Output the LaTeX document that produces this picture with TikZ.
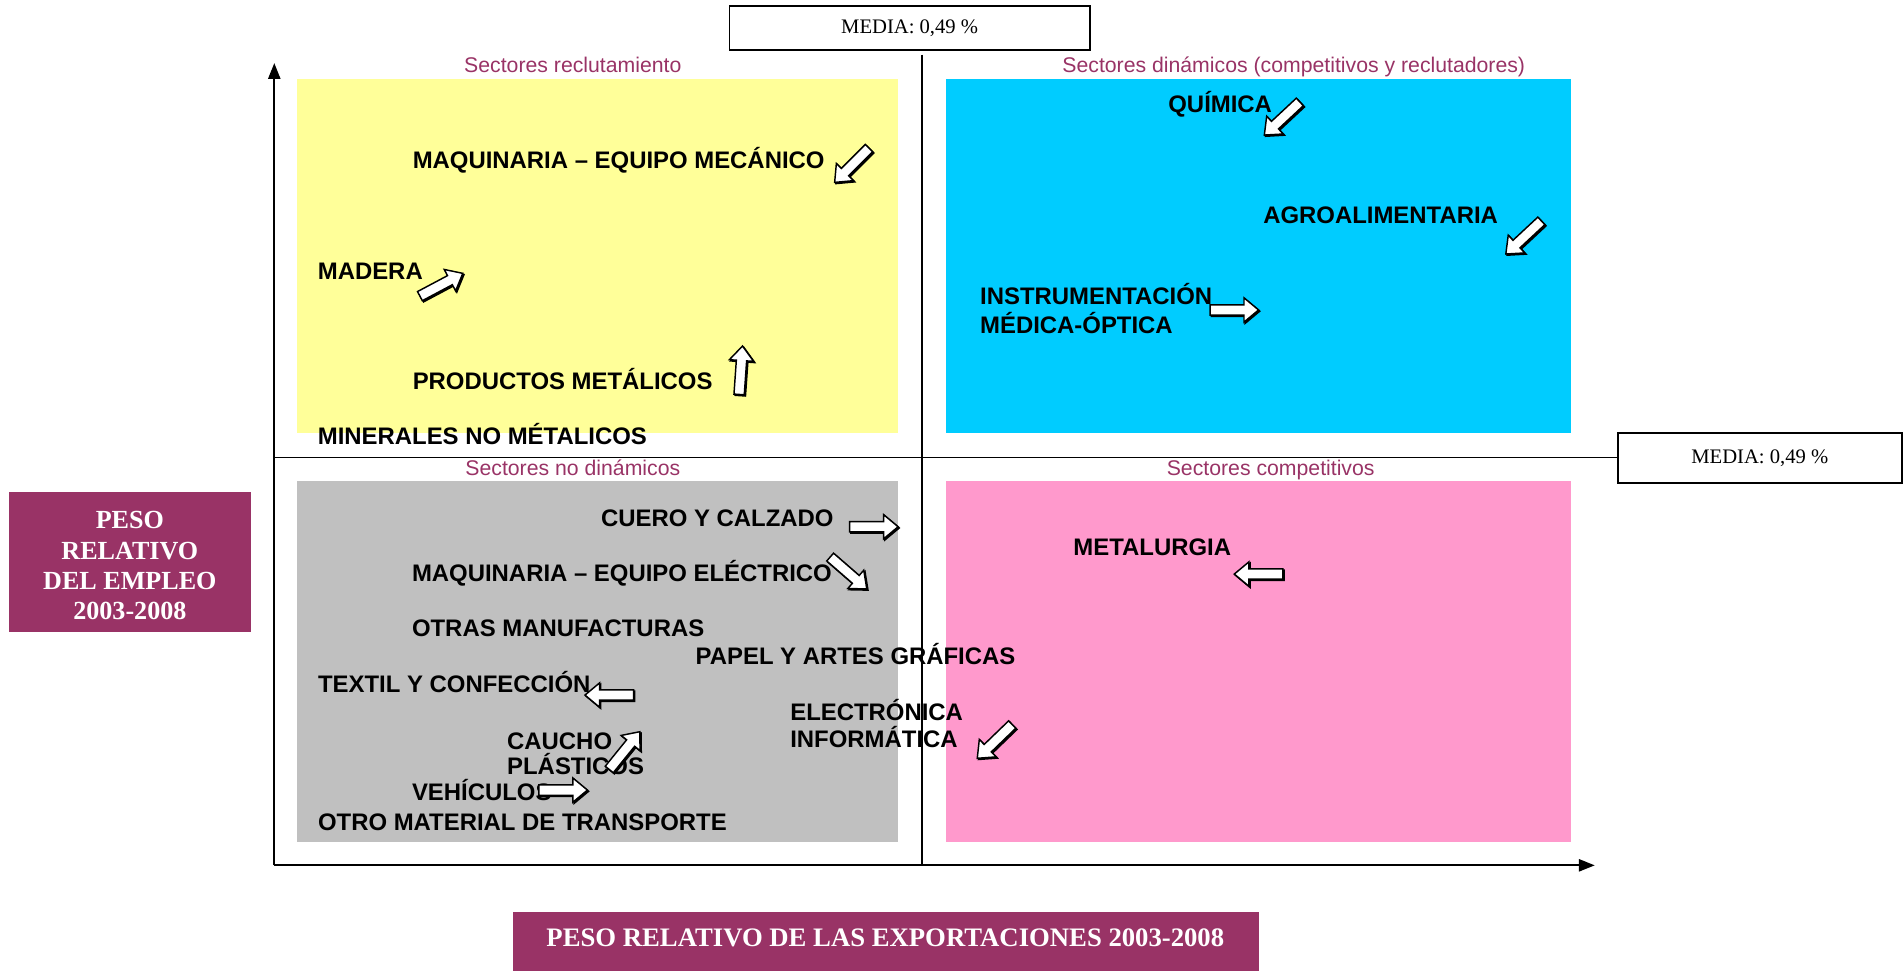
\documentclass[tikz,border=0pt]{standalone}
\usepackage{fontspec}
\setmainfont{Liberation Serif}
\newfontfamily\arialf{Liberation Sans}
\usetikzlibrary{arrows.meta}
\definecolor{qyellow}{HTML}{FFFF99}
\definecolor{qcyan}{HTML}{00CCFF}
\definecolor{qgray}{HTML}{C0C0C0}
\definecolor{qpink}{HTML}{FF99CC}
\definecolor{qpurple}{HTML}{993366}
\tikzset{
  lab/.style={font=\arialf\bfseries\fontsize{19.7}{23}\selectfont, anchor=base west, inner sep=0pt},
  ttl/.style={font=\arialf\fontsize{17.5}{20}\selectfont, text=qpurple, anchor=base, inner sep=0pt},
  axisline/.style={line width=1.5pt},
  mediabox/.style={draw, line width=1.5pt, fill=white, inner sep=0pt, font=\fontsize{17}{20}\selectfont},
  barrow/.pic={\draw[line width=1.2pt, fill=white, line join=miter]
     (0,-4.25) -- (28,-4.25) -- (28,-10) -- (40,0) -- (28,10) -- (28,4.25) -- (0,4.25) -- cycle;},
  barrowsh/.pic={\draw[line width=1.2pt, fill=black, line join=miter]
     (0,-4.25) -- (28,-4.25) -- (28,-10) -- (40,0) -- (28,10) -- (28,4.25) -- (0,4.25) -- cycle;}
}
\newcommand\blockarr[3]{\pic[rotate=#3] at (#1+1,#2+1) {barrowsh}; \pic[rotate=#3] at (#1,#2) {barrow};}
\begin{document}
\begin{tikzpicture}[x=1pt,y=-1pt]
\useasboundingbox (0,0) rectangle (1568,800);
% quadrant backgrounds
\fill[qyellow] (245,65) rectangle (739.5,357);
\fill[qcyan] (779.5,65) rectangle (1294.5,357);
\fill[qgray] (245,396.5) rectangle (739.5,693.5);
\fill[qpink] (779.5,396.5) rectangle (1294.5,693.5);
% axes
\coordinate (o) at (226,713);
\coordinate (yt) at (226,52);
\coordinate (xr) at (1314,713);
\draw[axisline, -{Triangle[length=13pt,width=10pt]}] (o) -- (yt);
\draw[axisline, -{Triangle[length=13pt,width=10pt]}] (o) -- (xr);
% median boxes and lines
\node[mediabox, minimum width=297pt, minimum height=36pt] (mtop) at (749.5,23) {MEDIA: 0,49 \%};
\node[mediabox, minimum width=234pt, minimum height=41pt] (mright) at (1450,377.5) {MEDIA: 0,49 \%};
\coordinate (vtop) at (760,45);
\coordinate (vbot) at (760,713);
\coordinate (hleft) at (226,377);
\draw[axisline] (vtop) -- (vbot);
\draw[axisline] (hleft) -- (hleft -| mright.west);
% quadrant titles
\node[ttl] (t1) at (472,60) {Sectores reclutamiento};
\node[ttl] (t2) at (1066,60) {Sectores dinámicos (competitivos y reclutadores)};
\node[ttl] (t3) at (472,392) {Sectores no dinámicos};
\node[ttl] (t4) at (1047,391.5) {Sectores competitivos};
% axis title boxes
\node[fill=qpurple, minimum width=199pt, minimum height=115.5pt, inner sep=0pt] (ybox) at (107,463) {};
\node[text=white, font=\bfseries\fontsize{21.5}{25}\selectfont, anchor=base, inner sep=0pt] (ytxt1) at (107,435.3) {PESO};
\node[text=white, font=\bfseries\fontsize{21.5}{25}\selectfont, anchor=base, inner sep=0pt] (ytxt2) at (107,460.6) {RELATIVO};
\node[text=white, font=\bfseries\fontsize{21.5}{25}\selectfont, anchor=base, inner sep=0pt] (ytxt3) at (107,485.5) {DEL EMPLEO};
\node[text=white, font=\bfseries\fontsize{21.5}{25}\selectfont, anchor=base, inner sep=0pt] (ytxt4) at (107,510.3) {2003-2008};
\fill[qpurple] (422.5,751.7) rectangle (1037.5,805);
\node[text=white, font=\bfseries\fontsize{22}{25}\selectfont, anchor=base, inner sep=0pt] (xtxt) at (729.5,780) {PESO RELATIVO DE LAS EXPORTACIONES 2003-2008};
% labels: recruiting quadrant
\node[lab] (l1) at (339.9,138.7) {MAQUINARIA – EQUIPO MECÁNICO};
\node[lab] (l2) at (261.7,230.2) {MADERA};
\node[lab] (l3) at (339.9,320.8) {PRODUCTOS METÁLICOS};
\node[lab] (l4) at (261.7,365.9) {MINERALES NO MÉTALICOS};
% dynamic quadrant
\node[lab] (l5) at (962.5,92.8) {QUÍMICA};
\node[lab] (l6) at (1040.7,184) {AGROALIMENTARIA};
\node[lab] (l7a) at (807.4,251.3) {INSTRUMENTACIÓN};
\node[lab] (l7b) at (807.4,274.7) {MÉDICA-ÓPTICA};
% non dynamic quadrant
\node[lab] (l8) at (495.1,433.6) {CUERO Y CALZADO};
\node[lab] (l9) at (339.3,479.3) {MAQUINARIA – EQUIPO ELÉCTRICO};
\node[lab] (l10) at (339.3,524.6) {OTRAS MANUFACTURAS};
\node[lab] (l11) at (573,547.4) {PAPEL Y ARTES GRÁFICAS};
\node[lab] (l12) at (261.9,570.2) {TEXTIL Y CONFECCIÓN};
\node[lab] (l13a) at (417.7,617.2) {CAUCHO};
\node[lab] (l13b) at (417.7,638.1) {PLÁSTICOS};
\node[lab] (l14) at (339.3,659.8) {VEHÍCULOS};
\node[lab] (l15) at (261.9,684.5) {OTRO MATERIAL DE TRANSPORTE};
\node[lab] (l16a) at (651,593.3) {ELECTRÓNICA};
\node[lab] (l16b) at (651,616.1) {INFORMÁTICA};
% competitive quadrant
\node[lab] (l17) at (884.3,457.3) {METALURGIA};
% block arrows
\blockarr{716}{122}{225}
\blockarr{346}{244}{28}
\blockarr{609}{325}{86}
\blockarr{1071}{84}{223}
\blockarr{1270}{182}{223}
\blockarr{997}{255.4}{0}
\blockarr{700}{434}{0}
\blockarr{684}{459}{-41}
\blockarr{522}{572.7}{180}
\blockarr{502}{634}{51}
\blockarr{444}{651}{0}
\blockarr{834}{597}{224}
\blockarr{1057}{473}{180}
\end{tikzpicture}
\end{document}
